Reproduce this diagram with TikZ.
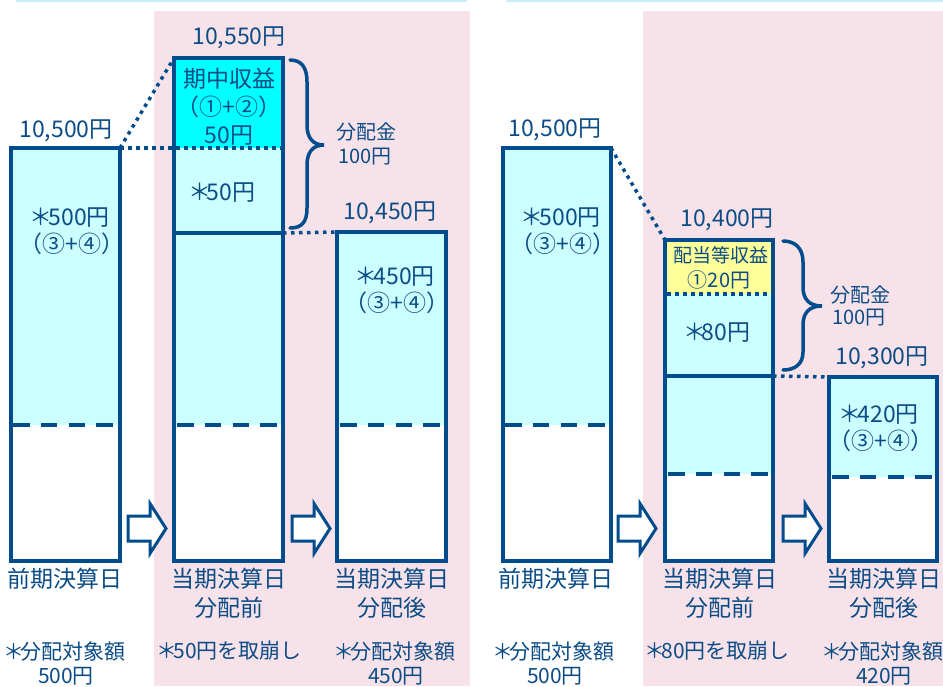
\documentclass[tikz,border=0pt]{standalone}
\usepackage{fontspec}
\setmainfont{Noto Sans CJK JP}
\definecolor{dblue}{HTML}{004C8C}
\definecolor{tblue}{HTML}{0B4C86}
\definecolor{cyanA}{HTML}{00FFFF}
\definecolor{lcyan}{HTML}{CCFFFF}
\definecolor{lyellow}{HTML}{FFFF99}
\definecolor{pinkbg}{HTML}{F8E2E9}
\definecolor{topblue}{HTML}{C8ECF8}
\newcommand\fsz[2]{\fontsize{#1}{#2}\selectfont}
\newcommand\stx{\makebox[0.62em][c]{＊}}
\newcommand\barrowat[1]{\draw[blockarrow,shift={(#1,0)}] (0,516) -- (22,516) -- (22,503.5) -- (38,528.5) -- (22,553.5) -- (22,541) -- (0,541) -- cycle;}
\begin{document}
\begin{tikzpicture}[x=1pt,y=-1pt,
  box/.style={draw=dblue, line width=3.5pt, inner sep=0pt, outer sep=0pt, anchor=north west},
  dotline/.style={draw=dblue, line width=3.5pt, dash pattern=on 3.5pt off 4.5pt},
  dashline/.style={draw=dblue, line width=4pt, dash pattern=on 16.5pt off 11.3pt},
  solidline/.style={draw=dblue, line width=3.5pt},
  bracesty/.style={draw=dblue, line width=3.5pt, line cap=round},
  blockarrow/.style={draw=dblue, line width=3pt, fill=white, line join=miter},
  big/.style={text=tblue, font=\fsz{23}{27}, inner sep=0pt, align=center},
  mid/.style={text=tblue, font=\fsz{20}{24}, inner sep=0pt, align=center},
  note/.style={text=tblue, font=\fsz{21}{24}, inner sep=0pt, align=center},
  lbl/.style={text=tblue, font=\fsz{23}{29}, inner sep=0pt, align=center}]
\useasboundingbox (0,0) rectangle (943,686);
% backgrounds
\fill[pinkbg] (154,11) rectangle (470,686);
\fill[pinkbg] (643,11) rectangle (943,686);
\draw[topblue, line width=1.6pt] (16,0.8) -- (467,0.8);
\draw[topblue, line width=1.6pt] (506,0.8) -- (943,0.8);
% fills
\fill[lcyan] (11,148) rectangle (120,425);
\fill[white] (11,425) rectangle (120,561);
\fill[cyanA] (174,58) rectangle (283,147.5);
\fill[lcyan] (174,147.5) rectangle (283,425);
\fill[white] (174,425) rectangle (283,561);
\fill[lcyan] (337,232) rectangle (446,425);
\fill[white] (337,425) rectangle (446,561);
\fill[lcyan] (503,148) rectangle (611,425);
\fill[white] (503,425) rectangle (611,561);
\fill[lyellow] (665,240) rectangle (773,294);
\fill[lcyan] (665,294) rectangle (773,474);
\fill[white] (665,474) rectangle (773,561);
\fill[lcyan] (829,377) rectangle (937,477);
\fill[white] (829,477) rectangle (937,561);
% dividers
\draw[dashline] (13,425) -- (118,425);
\draw[dashline] (177,425) -- (281,425);
\draw[dashline] (340,425) -- (444,425);
\draw[dashline] (505,425) -- (609,425);
\draw[dashline] (668,474) -- (771,474);
\draw[dashline] (832,477) -- (935,477);
\draw[solidline] (174,233) -- (283,233);
\draw[solidline] (665,376) -- (773,376);
\draw[dotline] (667,294) -- (773,294);
% boxes
\node[box, minimum width=109pt, minimum height=413pt] (A) at (11,148) {};
\node[box, minimum width=109pt, minimum height=503pt] (B) at (174,58) {};
\node[box, minimum width=109pt, minimum height=329pt] (C) at (337,232) {};
\node[box, minimum width=108pt, minimum height=413pt] (D) at (503,148) {};
\node[box, minimum width=108pt, minimum height=321pt] (E) at (665,240) {};
\node[box, minimum width=108pt, minimum height=184pt] (F) at (829,377) {};
\coordinate (Bmid) at (283,233);
\coordinate (Emid) at (773,376);
% dotted connectors
\draw[dotline] (A.north east) -- (B.north west);
\draw[dotline] (A.north east) -- (A.north east -| B.east);
\draw[dotline] (Bmid) -- (C.north west);
\draw[dotline] (D.north east) -- (E.north west);
\draw[dotline] (Emid) -- (F.north west);
% block arrows
\barrowat{128}
\barrowat{292}
\barrowat{618}
\barrowat{783}
% braces
\draw[bracesty] (290,60) .. controls (302,60) and (307,68) .. (307,82) -- (307,125) .. controls (307,138) and (313,145) .. (324,145) .. controls (313,145) and (307,152) .. (307,165) -- (307,208) .. controls (307,222) and (302,228) .. (290,228);
\draw[bracesty] (783,241) .. controls (795,241) and (803,248) .. (803,262) -- (803,287) .. controls (803,299) and (809,306) .. (822,306) .. controls (809,306) and (803,313) .. (803,325) -- (803,352) .. controls (803,364) and (795,370) .. (783,370);
\node[mid] (kin1) at (366,132) {分配金};
\node[mid] (yen1) at (365,157) {100円};
\node[mid] (kin2) at (860,295) {分配金};
\node[mid] (yen2) at (859,318) {100円};
% top values
\node[big] (vA) at (66,131) {10,500円};
\node[big] (vB) at (239,38) {10,550円};
\node[big] (vC) at (390,213) {10,450円};
\node[big] (vD) at (555,130) {10,500円};
\node[big] (vE) at (727,220) {10,400円};
\node[big] (vF) at (882,358) {10,300円};
% inside texts
\node[big] (tA) at (72,231) {\stx{}500円\\（③+④）};
\node[lbl, font=\fsz{23}{28}] (tB1) at (229,107) {期中収益\\（①+②）\\50円};
\node[big] (tB2) at (224,193) {\stx{}50円};
\node[big] (tC) at (397,290) {\stx{}450円\\（③+④）};
\node[big] (tD) at (563,231) {\stx{}500円\\（③+④）};
\node[text=tblue, font=\fsz{19}{22}, inner sep=0pt] (tE1) at (721,255) {配当等収益};
\node[mid] (tE2) at (719,280) {①20円};
\node[big] (tE3) at (719,333) {\stx{}80円};
\node[big] (tF) at (881,428.5) {\stx{}420円\\（③+④）};
% bottom labels
\node[lbl] (bA) at (65,579) {前期決算日};
\node[lbl] (bB) at (229,593.5) {当期決算日\\分配前};
\node[lbl] (bC) at (392,593.5) {当期決算日\\分配後};
\node[lbl] (bD) at (556,579) {前期決算日};
\node[lbl] (bE) at (720,593.5) {当期決算日\\分配前};
\node[lbl] (bF) at (884,593.5) {当期決算日\\分配後};
% notes
\node[note] (nA) at (66,663) {\stx{}分配対象額\\500円};
\node[note] (nB) at (231,651) {\stx{}50円を取崩し};
\node[note] (nC) at (396,663) {\stx{}分配対象額\\450円};
\node[note] (nD) at (555,663) {\stx{}分配対象額\\500円};
\node[note] (nE) at (719,651) {\stx{}80円を取崩し};
\node[note] (nF) at (884,663) {\stx{}分配対象額\\420円};
\end{tikzpicture}
\end{document}
